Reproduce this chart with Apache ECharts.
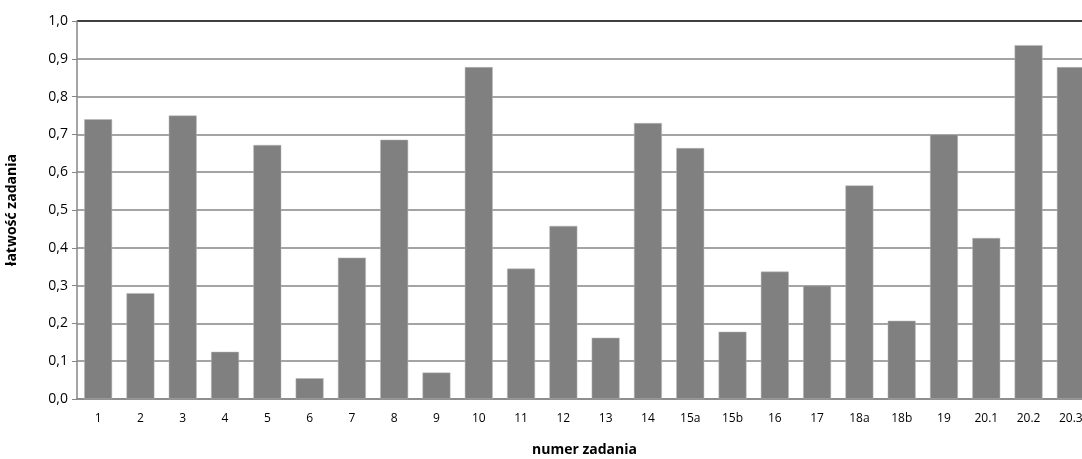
<!DOCTYPE html>
<html lang="pl">
<head>
    <meta charset="UTF-8">
    <title>łatwość zadania</title>
    <script src="https://cdn.jsdelivr.net/npm/echarts@6/dist/echarts.min.js"></script>
</head>
<body style="margin:0">
<div id="box" style="width: 1082px;height: 459px;"></div>
<script>
    var zadania = ['1', '2', '3', '4', '5', '6', '7', '8', '9', '10', '11', '12', '13', '14',
        '15a', '15b', '16', '17', '18a', '18b', '19', '20.1', '20.2', '20.3'];
    var latwosc = [0.74, 0.28, 0.75, 0.125, 0.672, 0.055, 0.374, 0.686, 0.07, 0.878, 0.345, 0.458,
        0.162, 0.73, 0.664, 0.178, 0.337, 0.3, 0.565, 0.207, 0.70, 0.426, 0.936, 0.878];

    var gridColors = [];
    for (var i = 0; i < 10; i++) gridColors.push('#868686');
    gridColors.push('#000');

    var myChart = echarts.init(document.getElementById('box'));
    var font = 'Open Sans';
    var option = {
        animation: false,
        textStyle: {fontFamily: font},
        grid: {left: 77, width: 1015, top: 21, bottom: 60, outerBoundsMode: 'none', containLabel: false},
        xAxis: {
            type: 'category',
            data: zadania,
            name: 'numer zadania',
            nameLocation: 'middle',
            nameGap: 44,
            nameTextStyle: {fontWeight: 'bold', fontSize: 14, color: '#000'},
            axisLine: {lineStyle: {color: '#868686', width: 1.5}},
            axisTick: {lineStyle: {color: '#868686'}, length: 5},
            axisLabel: {color: '#000', fontSize: 12, margin: 14}
        },
        yAxis: {
            type: 'value',
            min: 0,
            max: 1,
            interval: 0.1,
            name: 'łatwość zadania',
            nameLocation: 'middle',
            nameGap: 58,
            nameTextStyle: {fontWeight: 'bold', fontSize: 14, color: '#000'},
            axisLine: {show: true, lineStyle: {color: '#868686', width: 1.5}},
            axisTick: {show: true, lineStyle: {color: '#868686'}, length: 5},
            axisLabel: {
                color: '#000', fontSize: 14, margin: 9,
                formatter: function (v) { return v.toFixed(1).replace('.', ','); }
            },
            splitLine: {lineStyle: {color: gridColors, width: 1.5}}
        },
        series: [{
            type: 'bar',
            data: latwosc,
            barCategoryGap: '34%',
            itemStyle: {color: '#808080', borderColor: '#b8b8b8', borderWidth: 0.5}
        }]
    };
    myChart.setOption(option);
</script>
</body>
</html>
